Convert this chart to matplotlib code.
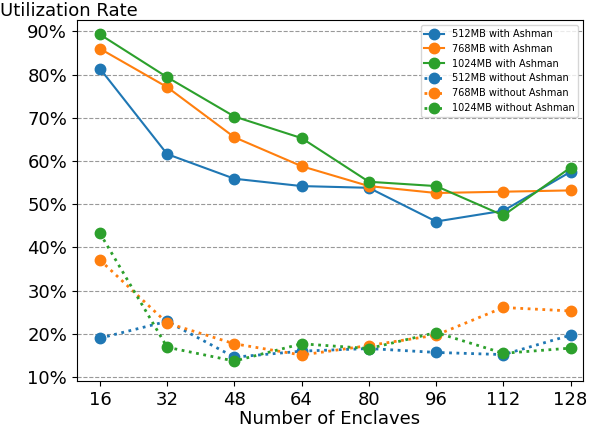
import numpy as np
import matplotlib
matplotlib.use('Agg')
import matplotlib.pyplot as plt
from matplotlib.ticker import PercentFormatter

enclaves = [16, 32, 48, 64, 80, 96, 112, 128]

with_512 = [81.4, 61.6, 55.9, 54.2, 53.8, 46.0, 48.5, 57.5]
with_768 = [86.0, 77.1, 65.5, 58.8, 54.2, 52.6, 52.9, 53.2]
with_1024 = [89.3, 79.4, 70.3, 65.3, 55.2, 54.2, 47.4, 58.5]
without_512 = [19.0, 22.9, 14.6, 16.0, 16.6, 15.7, 15.2, 19.7]
without_768 = [37.1, 22.5, 17.7, 15.1, 17.3, 19.7, 26.1, 25.3]
without_1024 = [43.3, 16.9, 13.7, 17.7, 16.6, 20.3, 15.5, 16.7]

blue, orange, green = '#1f77b4', '#ff7f0e', '#2ca02c'

fig, ax = plt.subplots(figsize=(6, 4.29), dpi=100)
fig.subplots_adjust(left=0.128, right=0.972, top=0.953, bottom=0.112)

ms = 7.5
ax.plot(enclaves, with_512, '-o', color=blue, ms=ms, label='512MB with Ashman')
ax.plot(enclaves, with_768, '-o', color=orange, ms=ms, label='768MB with Ashman')
ax.plot(enclaves, with_1024, '-o', color=green, ms=ms, label='1024MB with Ashman')
ax.plot(enclaves, without_512, ':o', color=blue, ms=ms, lw=2, label='512MB without Ashman')
ax.plot(enclaves, without_768, ':o', color=orange, ms=ms, lw=2, label='768MB without Ashman')
ax.plot(enclaves, without_1024, ':o', color=green, ms=ms, lw=2, label='1024MB without Ashman')

ax.set_xticks(enclaves)
ax.set_xlim(10.5, 131)
ax.set_yticks(np.arange(10, 91, 10))
ax.set_ylim(9.1, 92.6)
ax.yaxis.set_major_formatter(PercentFormatter(decimals=0))
ax.tick_params(labelsize=13)
ax.grid(axis='y', linestyle='--', color='gray', alpha=0.8)
ax.set_xlabel('Number of Enclaves', fontsize=13, labelpad=1)
fig.text(0.0, 0.975, 'Utilization Rate', fontsize=13, va='center', ha='left')
ax.legend(fontsize=7, loc='upper right')

plt.savefig('out.png', dpi=100)
